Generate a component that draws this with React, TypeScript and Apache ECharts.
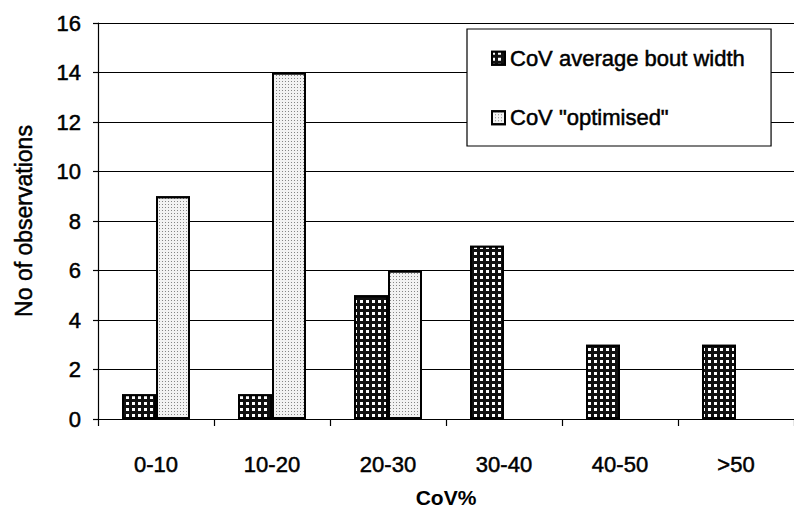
import React, { useEffect, useRef } from "react";
import * as echarts from "echarts";

const categories = ["0-10", "10-20", "20-30", "30-40", "40-50", ">50"];
const averageBoutWidth = [1, 1, 5, 7, 3, 3];
const optimised = [9, 14, 6, 0, 0, 0];
const yTicks = { min: 0, max: 16, interval: 2 };

const FONT = "'Liberation Sans', Arial, sans-serif";
const heavy = { textBorderColor: "#000", textBorderWidth: 0.5 };

export default function App() {
  const ref = useRef<HTMLDivElement>(null);
  useEffect(() => {
    if (!ref.current) return;
    const chart = echarts.init(ref.current, null, { renderer: "svg" });
    chart.setOption({
      animation: false,
      backgroundColor: "#ffffff",
      textStyle: { fontFamily: FONT, color: "#000" },
      grid: { left: 98, top: 23, bottom: 93, right: -9, containLabel: false },
      legend: {
        orient: "vertical",
        left: 467,
        top: 29,
        padding: [18, 26, 17, 24],
        itemGap: 37,
        itemWidth: 13,
        itemHeight: 13,
        icon: "rect",
        borderColor: "#000",
        borderWidth: 1.2,
        backgroundColor: "#fff",
        textStyle: { fontFamily: FONT, fontSize: 22, color: "#000", ...heavy },
        data: ["CoV average bout width", 'CoV "optimised"'],
      },
      xAxis: {
        type: "category",
        data: categories,
        name: "CoV%",
        nameLocation: "middle",
        nameGap: 68,
        nameTextStyle: { fontFamily: FONT, fontSize: 21, fontWeight: "bold", color: "#000" },
        axisLine: { show: true, lineStyle: { color: "#000", width: 1.2 } },
        axisTick: { show: true, alignWithLabel: false, length: 7, lineStyle: { color: "#000", width: 1.2 } },
        axisLabel: { fontFamily: FONT, fontSize: 22, color: "#000", margin: 34, ...heavy },
        splitLine: { show: false },
      },
      yAxis: {
        type: "value",
        min: yTicks.min,
        max: yTicks.max,
        interval: yTicks.interval,
        name: "No of observations",
        nameLocation: "middle",
        nameGap: 63,
        nameTextStyle: { fontFamily: FONT, fontSize: 23, color: "#000", ...heavy },
        axisLine: { show: true, lineStyle: { color: "#000", width: 1.2 } },
        axisTick: { show: true, length: 5, lineStyle: { color: "#000", width: 1.2 } },
        axisLabel: { fontFamily: FONT, fontSize: 22, color: "#000", margin: 17, ...heavy },
        splitLine: { show: true, lineStyle: { color: "#000", width: 1.2 } },
      },
      series: [
        {
          name: "CoV average bout width",
          type: "bar",
          data: averageBoutWidth.map((v) => (v === 0 ? "-" : v)),
          barWidth: 34,
          barGap: "0%",
          itemStyle: {
            color: "#111",
            borderColor: "#000",
            borderWidth: 2,
            decal: {
              symbol: "rect",
              symbolSize: 1,
              color: "#ffffff",
              dashArrayX: [2.5, 3],
              dashArrayY: [2.5, 3],
              rotation: 0,
            },
          },
        },
        {
          name: 'CoV "optimised"',
          type: "bar",
          data: optimised.map((v) => (v === 0 ? "-" : v)),
          barWidth: 34,
          barGap: "0%",
          itemStyle: {
            color: "#f2f2f2",
            borderColor: "#000",
            borderWidth: 2,
            decal: {
              symbol: "rect",
              symbolSize: 1,
              color: "rgba(0,0,0,0.45)",
              dashArrayX: [1, 2],
              dashArrayY: [1, 2],
              rotation: 0,
            },
          },
        },
      ],
    });
    return () => chart.dispose();
  }, []);
  return <div ref={ref} style={{ width: 794, height: 513, position: "absolute", left: 0, top: 0 }} />;
}
